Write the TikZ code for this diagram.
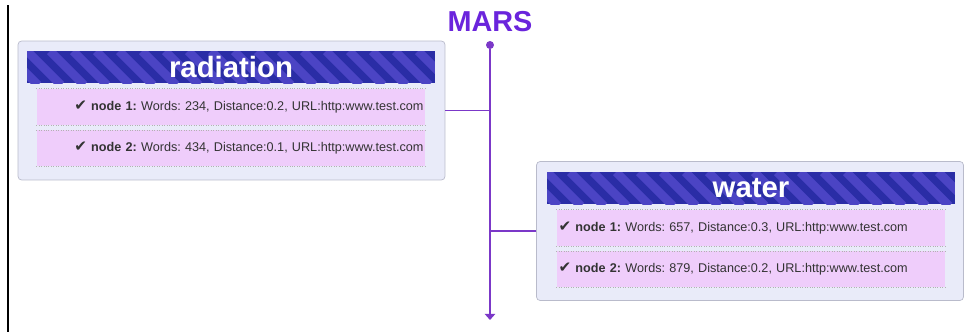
\documentclass[tikz,border=0pt]{standalone}
\usepackage{fontspec}
\setmainfont{Liberation Sans}
\newfontfamily\symfont{DejaVu Sans}
\usetikzlibrary{positioning, arrows.meta, calc}

\definecolor{marsviolet}{HTML}{6A24DC}
\definecolor{trunkviolet}{HTML}{7B38C8}
\definecolor{headdark}{HTML}{2A2DA6}
\definecolor{headlight}{HTML}{4B44C4}
\definecolor{boxfill}{HTML}{E9EBF9}
\definecolor{boxline}{HTML}{B9BBCB}
\definecolor{rowfill}{HTML}{EFCDFB}
\definecolor{rowtext}{HTML}{333333}

\newcommand{\tick}{{\symfont\bfseries\fontsize{8.6}{8.6}\selectfont ✔}}

\begin{document}
\frenchspacing
\begin{tikzpicture}[
    x=0.02cm, y=-0.02cm,
    every node/.style={font=\fontsize{7.2}{8.5}\selectfont, text=rowtext},
    topic/.style={rectangle, draw=boxline, fill=boxfill, rounded corners=2pt, minimum width=8.54cm, minimum height=2.78cm},
    stripe/.style={headlight, line width=5pt},
    header/.style={rectangle, fill=headdark, minimum width=8.16cm, minimum height=0.64cm, inner sep=0pt,
        text=white, font=\bfseries\fontsize{16.7}{18}\selectfont,
        path picture={\foreach \k in {-2,...,20}
            \draw[stripe] ($(path picture bounding box.north west)+(\k*23,0)$) -- ++(34,34);}},
    row/.style={rectangle, fill=rowfill, minimum width=7.78cm, minimum height=0.72cm, inner xsep=0.04cm, text width=7.7cm},
    rowleft/.style={row, align=left},
    rowright/.style={row, align=right},
    rowedge/.style={gray!60, densely dotted, line width=0.4pt},
    link/.style={trunkviolet, line width=0.7pt},
    trunk/.style={link, -{Triangle[width=6pt, length=3.5pt]}}
]
    \useasboundingbox (0,0) rectangle (964,332);
    \draw[black, line width=0.6pt] (8,5) -- (8,332);

    % central topic
    \node[font=\bfseries\fontsize{16.4}{18}\selectfont, text=marsviolet] (mars) at (490,22) {MARS};
    \node[circle, fill=trunkviolet, inner sep=0pt, minimum size=0.16cm] (dot) at (490,45) {};
    \coordinate (trunkend) at (490,320);

    % radiation
    \node[topic] (rad) at (231.5,110.5) {};
    \node[header] (radhead) at (231,67) {radiation};
    \node[rowright, below=0.1cm of radhead] (radrow1) {\tick\ \textbf{node 1:} Words: 234, Distance:0.2, URL:http:www.test.com};
    \node[rowright, below=0.1cm of radrow1] (radrow2) {\tick\ \textbf{node 2:} Words: 434, Distance:0.1, URL:http:www.test.com};

    % water
    \node[topic] (wat) at (750,231) {};
    \node[header] (wathead) at (751,188) {water};
    \node[rowleft, below=0.1cm of wathead] (watrow1) {\tick\ \textbf{node 1:} Words: 657, Distance:0.3, URL:http:www.test.com};
    \node[rowleft, below=0.1cm of watrow1] (watrow2) {\tick\ \textbf{node 2:} Words: 879, Distance:0.2, URL:http:www.test.com};

    \foreach \r in {radrow1,radrow2,watrow1,watrow2} {
        \draw[rowedge] (\r.north west) -- (\r.north east);
        \draw[rowedge] (\r.south west) -- (\r.south east);
    }

    \draw[trunk] (dot) -- (trunkend);
    \draw[link] (rad.east) -- (rad.east -| dot);
    \draw[link] (wat.west) -- (wat.west -| dot);
\end{tikzpicture}
\end{document}
